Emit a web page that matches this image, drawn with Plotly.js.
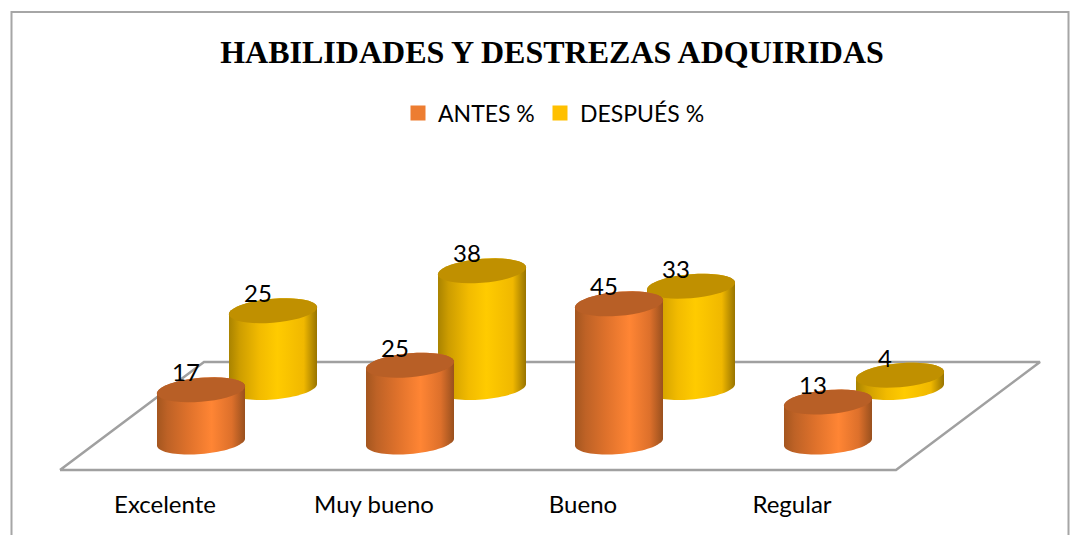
<!DOCTYPE html>
<html><head><meta charset="utf-8">
<script src="https://cdn.plot.ly/plotly-3.0.1.min.js"></script>
<style>html,body{margin:0;padding:0;background:#fff}#c{width:1080px;height:535px}</style>
</head><body><div id="c"></div>
<script>
const categories = ['Excelente','Muy bueno','Bueno','Regular'];
const antes = [17,25,45,13];
const despues = [25,38,33,4];
const seriesNames = ['ANTES %','DESPUÉS %'];
const titleText = 'HABILIDADES Y DESTREZAS ADQUIRIDAS';

const PX_X = 209, PX_Y = 3.07;
const rx = 44/PX_X, ry = 12/PX_Y, skew = 3.5/PX_Y;
const rearDx = 72/PX_X, rearDy = 54.5/PX_Y;
const W = 1080, PLOT_H = 488, X0 = 201, Y0 = 442;
const dataX = px => (px-X0)/PX_X, dataY = py => (Y0-py)/PX_Y;

const range = (a,b,n)=>Array.from({length:n+1},(_,i)=>a+(b-a)*i/n);
function arc(cx,cy,t0,t1){
  const ts = range(t0,t1,40);
  return {x:ts.map(t=>cx+rx*Math.cos(t)), y:ts.map(t=>cy+skew*Math.cos(t)+ry*Math.sin(t))};
}
function cylinder(i,v,dx,dy,scale,topColor){
  const cx=i+dx, base=dy, top=dy+v;
  const low=arc(cx,base,Math.PI,2*Math.PI), up=arc(cx,top,0,Math.PI);
  return [
    {type:'scatter',mode:'none',x:low.x.concat(up.x),y:low.y.concat(up.y),fill:'toself',
     fillgradient:{type:'horizontal',colorscale:scale},showlegend:false,hoverinfo:'skip'},
    (()=>{const e=arc(cx,top,0,2*Math.PI);return {type:'scatter',mode:'none',x:e.x,y:e.y,fill:'toself',
      fillcolor:topColor,showlegend:false,hoverinfo:'skip'};})()
  ];
}
const orangeScale=[[0,'#A4561F'],[0.12,'#BE6226'],[0.35,'#DE712B'],[0.62,'#FF8534'],[0.85,'#DD702B'],[1,'#99501E']];
const yellowScale=[[0,'#A98300'],[0.12,'#CD9D00'],[0.35,'#F2BB00'],[0.55,'#FFCB00'],[0.85,'#F0B800'],[1,'#987400']];

const traces=[];
traces.push({type:'scatter',mode:'lines',
  x:[60,896,1040,204,60].map(dataX),y:[470,470,362,362,470].map(dataY),
  line:{color:'#A0A0A0',width:2.5},showlegend:false,hoverinfo:'skip'});
despues.forEach((v,i)=>traces.push(...cylinder(i,v,rearDx,rearDy,yellowScale,'#C09000')));
antes.forEach((v,i)=>traces.push(...cylinder(i,v,0,0,orangeScale,'#B85F26')));
const labelFont={family:'Lato, Carlito, sans-serif',size:24,color:'#000'};
const ldx=-15/PX_X, ldy=14.5/PX_Y;
traces.push({type:'scatter',mode:'text',x:antes.map((v,i)=>i+ldx),y:antes.map(v=>v+ldy),
  text:antes.map(String),textfont:labelFont,textposition:'middle center',showlegend:false,hoverinfo:'skip'});
traces.push({type:'scatter',mode:'text',x:despues.map((v,i)=>i+rearDx+ldx),y:despues.map(v=>v+rearDy+ldy),
  text:despues.map(String),textfont:labelFont,textposition:'middle center',showlegend:false,hoverinfo:'skip'});
traces.push({type:'scatter',mode:'markers',name:seriesNames[0],x:[null],y:[null],legend:'legend',marker:{symbol:'square',size:15,color:'#ED7D31'}});
traces.push({type:'scatter',mode:'markers',name:seriesNames[1],x:[null],y:[null],legend:'legend2',marker:{symbol:'square',size:15,color:'#FFC000'}});

const legendBase={orientation:'h',xanchor:'left',y:1-113/PLOT_H,yanchor:'middle',
  font:{family:'Lato, Carlito, sans-serif',size:23,color:'#000'},itemclick:false,itemdoubleclick:false};
const layout={
  width:W,height:535,margin:{l:0,r:0,t:0,b:535-PLOT_H},
  paper_bgcolor:'#fff',plot_bgcolor:'#fff',
  title:{text:'<b>'+titleText+'</b>',font:{family:'Liberation Serif, serif',size:32,color:'#000'},
    x:552/W,xanchor:'center',xref:'paper',y:1-52/535,yref:'container',yanchor:'middle'},
  xaxis:{range:[dataX(0),dataX(W)],tickmode:'array',tickvals:categories.map((c,i)=>i-36/PX_X),ticktext:categories,
    ticks:'',showgrid:false,zeroline:false,showline:false,ticklabelstandoff:0,
    tickfont:{family:'Lato, Carlito, sans-serif',size:24,color:'#000'}},
  yaxis:{range:[dataY(PLOT_H),dataY(0)],showticklabels:false,ticks:'',showgrid:false,zeroline:false,showline:false},
  legend:Object.assign({},legendBase,{x:398/W}),
  legend2:Object.assign({},legendBase,{x:540/W}),
  shapes:[{type:'path',xref:'paper',yref:'paper',
    path:`M ${11.5/W} ${1-535/PLOT_H} L ${11.5/W} ${1-12/PLOT_H} L ${1068.5/W} ${1-12/PLOT_H} L ${1068.5/W} ${1-535/PLOT_H}`,
    line:{color:'#A6A6A6',width:2},layer:'below'}]
};
Plotly.newPlot('c',traces,layout,{displayModeBar:false,staticPlot:true});
</script></body></html>
